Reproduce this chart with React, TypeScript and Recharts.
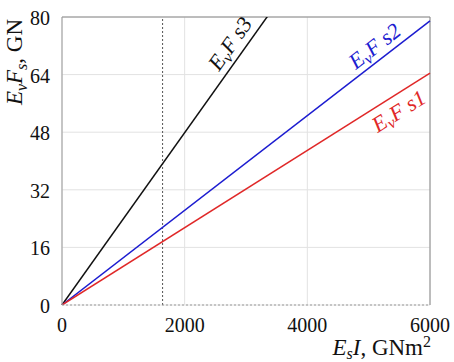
import { CartesianGrid, Line, LineChart, ReferenceDot, ReferenceLine, XAxis, YAxis } from 'recharts'

const stiffness = [0, 6000]
const force1 = [0, 64.4]
const force2 = [0, 78.9]
const force3 = [0, 143.6]
const xTicks = [0, 2000, 4000, 6000]
const yTicks = [0, 16, 32, 48, 64, 80]
const markerX = 1640

const data = stiffness.map((x, i) => ({ x, s1: force1[i], s2: force2[i], s3: force3[i] }))

const serif = 'Liberation Serif, Times New Roman, serif'

function Tag({ cx, cy, angle, color, idx }: any) {
  return (
    <text
      x={cx}
      y={cy}
      transform={`rotate(${angle} ${cx} ${cy})`}
      textAnchor="middle"
      dominantBaseline="middle"
      fill={color}
      fontFamily={serif}
      fontSize={22}
      fontStyle="italic">
      <tspan>E</tspan>
      <tspan dy={5} fontSize={16}>v</tspan>
      <tspan dy={-5}>F </tspan>
      <tspan>s{idx}</tspan>
    </text>
  )
}

function XTick({ x, y, payload }: any) {
  return (
    <text x={x} y={y + 15} textAnchor="middle" fill="#111" fontFamily={serif} fontSize={20}>
      {payload.value}
    </text>
  )
}

function YTick({ x, y, payload }: any) {
  return (
    <text x={x} y={y + 8} textAnchor="end" fill="#111" fontFamily={serif} fontSize={20}>
      {payload.value}
    </text>
  )
}

export default function App() {
  return (
    <div style={{ position: 'absolute', left: 0, top: 0 }}>
      <LineChart width={454} height={362} data={data} margin={{ top: 17, right: 24, left: 0, bottom: 27 }}>
        <CartesianGrid stroke="#e2e2e2" />
        <XAxis
          dataKey="x"
          type="number"
          domain={[0, 6000]}
          ticks={xTicks}
          tickLine={false}
          axisLine={{ stroke: '#999', strokeDasharray: '2 2' }}
          height={30}
          tick={<XTick />}
          tickMargin={6}
          label={{
            content: () => (
              <text x={431} y={355} textAnchor="end" fill="#111" fontFamily={serif} fontSize={23}>
                <tspan fontStyle="italic">E</tspan>
                <tspan dy={4} fontSize={16} fontStyle="italic">s</tspan>
                <tspan dy={-4} fontStyle="italic">I</tspan>
                <tspan>, GNm</tspan>
                <tspan dy={-8} fontSize={16}>2</tspan>
              </text>
            )
          }}
        />
        <YAxis
          type="number"
          domain={[0, 80]}
          ticks={yTicks}
          allowDataOverflow
          tickLine={false}
          axisLine={{ stroke: '#999' }}
          width={62}
          tick={<YTick />}
          tickMargin={6}
          label={{
            content: () => (
              <text
                x={22}
                y={62}
                transform="rotate(-90 22 62)"
                textAnchor="middle"
                fill="#111"
                fontFamily={serif}
                fontSize={23}>
                <tspan fontStyle="italic">E</tspan>
                <tspan dy={5} fontSize={16} fontStyle="italic">v</tspan>
                <tspan dy={-5} fontStyle="italic">F</tspan>
                <tspan dy={5} fontSize={16} fontStyle="italic">s</tspan>
                <tspan dy={-5}>, GN</tspan>
              </text>
            )
          }}
        />
        <ReferenceLine y={80} stroke="#888" />
        <ReferenceLine x={6000} stroke="#888" />
        <ReferenceLine x={markerX} stroke="#555" strokeDasharray="2 2" />
        <Line type="linear" dataKey="s3" stroke="#111" strokeWidth={1.5} dot={false} isAnimationActive={false} />
        <Line type="linear" dataKey="s2" stroke="#1c1cd0" strokeWidth={1.5} dot={false} isAnimationActive={false} />
        <Line type="linear" dataKey="s1" stroke="#e02828" strokeWidth={1.5} dot={false} isAnimationActive={false} />
        <ReferenceDot x={2772} y={72.2} shape={(p: any) => <Tag {...p} angle={-54.6} color="#111" idx="3" />} />
        <ReferenceDot x={5120} y={71.4} shape={(p: any) => <Tag {...p} angle={-37.7} color="#1c1cd0" idx="2" />} />
        <ReferenceDot x={5511} y={53.3} shape={(p: any) => <Tag {...p} angle={-32.2} color="#e02828" idx="1" />} />
      </LineChart>
    </div>
  )
}
